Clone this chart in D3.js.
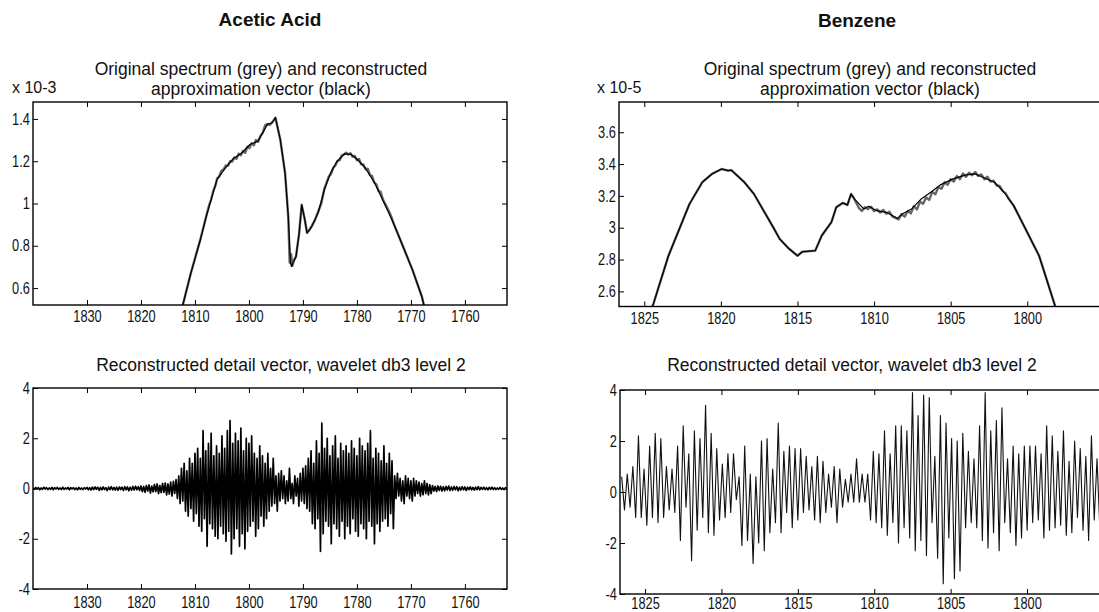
<!DOCTYPE html>
<html>
<head>
<meta charset="utf-8">
<title>Acetic Acid / Benzene - wavelet decomposition</title>
<script src="https://d3js.org/d3.v7.min.js"></script>
<style>
  body { margin: 0; background: #fff; }
  svg { display: block; }
  .ttl { font-family: "Liberation Sans", Arial, Helvetica, sans-serif; fill: #111; }
</style>
</head>
<body>
<div id="chart"></div>
<script>
// ---------- data ----------
// wavenumber ticks and y ticks
var acidXTicks = [1830, 1820, 1810, 1800, 1790, 1780, 1770, 1760];
var benzXTicks = [1825, 1820, 1815, 1810, 1805, 1800];
var acidApproxYTicks = [0.6, 0.8, 1, 1.2, 1.4];
var acidApproxYLabels = ["0.6", "0.8", "1", "1.2", "1.4"];
var benzApproxYTicks = [2.6, 2.8, 3, 3.2, 3.4, 3.6];
var benzApproxYLabels = ["2.6", "2.8", "3", "3.2", "3.4", "3.6"];
var detailYTicks = [-4, -2, 0, 2, 4];
var detailYLabels = ["-4", "-2", "0", "2", "4"];

// acetic acid, original spectrum (grey) [wavenumber, value x1e-3]
var acidOriginal = [[1812.5,0.48],[1812.25,0.52],[1810.77,0.67],[1809.0,0.83],[1807.81,0.95],[1807.4,0.99],[1807.0,1.02],
  [1806.6,1.06],[1806.2,1.085],[1805.9,1.118],[1805.5,1.128],[1805.1,1.155],[1804.7,1.16],[1804.3,1.18],[1803.9,1.178],
  [1803.5,1.2],[1803.1,1.198],[1802.7,1.218],[1802.3,1.212],[1801.9,1.235],[1801.5,1.228],[1801.1,1.248],[1800.7,1.24],
  [1800.3,1.268],[1799.9,1.262],[1799.5,1.285],[1799.1,1.275],[1798.7,1.3],[1798.3,1.292],[1797.9,1.318],[1797.46,1.334],
  [1797.0,1.37],[1796.57,1.376],[1796.1,1.372],[1795.68,1.385],[1795.09,1.406],[1794.2,1.303],[1793.31,1.145],[1792.72,0.939],
  [1792.45,0.72],[1792.2,0.76],[1791.95,0.705],[1791.7,0.73],[1791.28,0.75],[1790.7,0.86],[1790.23,0.994],[1789.65,0.923],
  [1789.24,0.862],[1788.8,0.875],[1788.37,0.893],[1787.8,0.92],[1787.2,0.96],[1786.6,1.0],[1786.03,1.07],[1785.6,1.1],
  [1785.2,1.128],[1784.8,1.14],[1784.4,1.168],[1784.0,1.18],[1783.6,1.2],[1783.2,1.205],[1782.8,1.228],[1782.4,1.232],
  [1782.0,1.24],[1781.6,1.232],[1781.2,1.238],[1780.8,1.222],[1780.4,1.225],[1780.0,1.205],[1779.6,1.21],[1779.2,1.185],
  [1778.8,1.185],[1778.4,1.162],[1778.0,1.165],[1777.6,1.135],[1777.2,1.13],[1776.8,1.1],[1776.4,1.09],[1776.0,1.06],
  [1775.6,1.055],[1775.2,1.02],[1774.8,1.0],[1774.4,0.98],[1774.0,0.96],[1773.6,0.935],[1773.2,0.905],[1771.46,0.797],
  [1769.71,0.686],[1767.96,0.559],[1767.6,0.52],[1767.3,0.48]];

// acetic acid, approximation vector (black)
var acidApprox = [[1812.5,0.48],[1812.25,0.52],[1810.77,0.67],[1809.0,0.828],[1807.81,0.947],[1806.63,1.05],[1805.92,1.113],
  [1804.56,1.161],[1803.08,1.208],[1801.3,1.24],[1799.82,1.279],[1798.34,1.295],[1797.46,1.334],[1796.57,1.374],
  [1795.68,1.382],[1795.09,1.406],[1794.2,1.303],[1793.31,1.145],[1792.72,0.939],[1792.3,0.72],[1792.13,0.702],
  [1791.87,0.717],[1791.28,0.749],[1790.7,0.86],[1790.23,0.994],[1789.65,0.923],[1789.24,0.86],[1788.37,0.891],
  [1787.2,0.955],[1786.03,1.065],[1784.87,1.145],[1783.7,1.2],[1782.24,1.235],[1781.08,1.232],[1779.91,1.208],
  [1778.45,1.168],[1776.71,1.097],[1774.96,1.002],[1773.21,0.907],[1771.46,0.797],[1769.71,0.686],[1767.96,0.559],
  [1767.6,0.52],[1767.3,0.48]];

// acetic acid, detail vector level 2: samples from 1840 every 0.25 cm-1 downward
var acidDetailStart = 1840, acidDetailStep = 0.25;
var acidDetail = [
  0.02,-0.03,0.04,-0.02,0.03,-0.05,0.02,-0.03,0.05,-0.02,
  0.03,-0.04,0.02,-0.03,0.04,-0.05,0.03,-0.02,0.04,-0.03,
  0.02,-0.04,0.05,-0.03,0.02,-0.02,0.04,-0.05,0.03,-0.02,
  0.03,-0.04,0.02,-0.05,0.04,-0.03,0.02,-0.04,0.03,-0.02,
  0.04,-0.05,0.03,-0.06,0.05,-0.04,0.06,-0.03,0.05,-0.07,
  0.04,-0.05,0.06,-0.04,0.03,-0.08,0.05,-0.04,0.07,-0.05,
  0.04,-0.06,0.05,-0.07,0.06,-0.04,0.05,-0.08,0.07,-0.05,
  0.06,-0.09,0.05,-0.07,0.08,-0.06,0.09,-0.05,0.07,-0.08,
  0.1,-0.12,0.08,-0.15,0.12,-0.1,0.14,-0.18,0.1,-0.13,
  0.16,-0.12,0.18,-0.2,0.12,-0.16,0.2,-0.15,0.22,-0.25,
  0.18,-0.22,0.25,-0.3,0.28,-0.2,0.35,-0.4,
  0.5,-0.6,0.8,-0.5,1.0,-0.9,0.7,-1.1,1.2,-0.8,1.0,-1.3,
  1.4,-1.0,1.6,-1.5,1.2,-1.7,2.3,-1.2,1.5,-2.3,1.8,-1.4,2.2,-1.6,1.3,-1.9,1.7,-2.0,1.4,-1.5,
  2.1,-1.8,1.6,-2.1,2.3,-1.7,2.7,-2.6,1.8,-2.0,2.2,-1.6,1.9,-2.3,2.4,-1.8,1.5,-2.4,2.0,-1.7,
  1.8,-1.5,2.1,-1.3,1.4,-1.9,1.2,-1.6,1.7,-1.1,1.3,-1.5,1.0,-1.2,1.4,-0.9,
  0.8,-0.7,1.2,-0.6,0.5,-0.9,0.6,-0.5,0.7,-0.4,0.5,-0.6,
  0.3,-0.5,0.8,-0.4,0.2,-0.6,0.5,-0.3,0.4,-0.7,0.6,-0.5,0.8,-0.6,0.9,-0.8,
  1.2,-0.9,1.5,-1.4,1.0,-1.6,1.9,-1.2,1.4,-2.5,2.6,-1.8,
  1.6,-1.3,2.0,-1.5,1.3,-2.2,1.7,-1.4,2.1,-1.6,1.2,-1.9,1.8,-1.3,1.5,-2.0,1.7,-1.5,1.4,-1.8,
  1.9,-1.2,1.6,-1.7,1.3,-1.9,2.0,-1.4,1.7,-1.6,1.5,-2.0,1.8,-1.3,2.3,-1.5,1.2,-2.2,1.6,-1.4,
  1.4,-1.7,1.1,-1.3,1.7,-1.2,1.0,-1.5,1.4,-1.0,1.1,-1.6,
  0.5,-0.4,0.6,-0.3,0.4,-0.5,0.3,-0.6,0.5,-0.3,0.4,-0.4,0.3,-0.5,0.4,-0.3,
  0.3,-0.2,0.25,-0.3,0.2,-0.25,0.3,-0.2,0.2,-0.25,0.15,-0.2,
  0.12,-0.1,0.08,-0.12,0.1,-0.08,0.09,-0.1,0.07,-0.09,
  0.08,-0.06,0.1,-0.08,0.06,-0.07,0.08,-0.05,0.07,-0.09,
  0.05,-0.06,0.07,-0.05,0.06,-0.08,0.05,-0.04,0.06,-0.05,
  0.04,-0.06,0.05,-0.04,0.07,-0.05,0.04,-0.03,0.05,-0.04,
  0.03,-0.05,0.04,-0.03,0.05,-0.04,0.03,-0.04,0.02,-0.03,
  0.04,-0.03,0.02,-0.04,0.03,-0.02,0.03];

// benzene, original spectrum (grey) [wavenumber, value x1e-5]
var benzOriginal = [[1824.6,2.47],[1824.41,2.52],[1823.42,2.824],[1822.58,3.023],[1822.05,3.149],[1821.21,3.286],
  [1820.58,3.338],[1819.95,3.369],[1819.53,3.359],[1819.32,3.362],[1818.47,3.286],[1817.84,3.212],[1817.21,3.107],
  [1816.58,3.002],[1816.16,2.929],[1815.53,2.866],[1815.0,2.824],[1814.68,2.849],[1813.84,2.856],[1813.42,2.95],
  [1812.79,3.034],[1812.47,3.128],[1812.05,3.156],[1811.74,3.143],[1811.5,3.212],[1811.29,3.181],
  [1811.0,3.125],[1810.8,3.105],[1810.6,3.128],[1810.4,3.118],[1810.2,3.132],[1810.0,3.105],[1809.8,3.115],
  [1809.6,3.095],[1809.4,3.112],[1809.2,3.088],[1809.0,3.1],[1808.8,3.07],[1808.6,3.062],[1808.4,3.052],
  [1808.2,3.085],[1808.0,3.07],[1807.8,3.105],[1807.6,3.09],[1807.4,3.135],[1807.2,3.115],[1807.0,3.165],
  [1806.8,3.15],[1806.6,3.19],[1806.4,3.175],[1806.2,3.225],[1806.0,3.21],[1805.8,3.255],[1805.6,3.245],
  [1805.4,3.285],[1805.2,3.27],[1805.0,3.305],[1804.8,3.29],[1804.6,3.325],[1804.4,3.305],[1804.2,3.34],
  [1804.0,3.32],[1803.8,3.345],[1803.6,3.33],[1803.4,3.35],[1803.2,3.325],[1803.0,3.335],[1802.8,3.305],
  [1802.6,3.32],[1802.4,3.29],[1802.2,3.295],[1802.0,3.265],[1801.8,3.262],[1801.6,3.23],[1801.4,3.215],
  [1801.2,3.18],[1800.89,3.139],[1800.06,2.982],[1799.23,2.824],[1798.19,2.51],[1798.0,2.47]];

// benzene, approximation vector (black)
var benzApprox = [[1824.6,2.47],[1824.41,2.52],[1823.42,2.824],[1822.58,3.023],[1822.05,3.149],[1821.21,3.286],
  [1820.58,3.338],[1819.95,3.369],[1819.53,3.359],[1819.32,3.362],[1818.47,3.286],[1817.84,3.212],[1817.21,3.107],
  [1816.58,3.002],[1816.16,2.929],[1815.53,2.866],[1815.0,2.824],[1814.68,2.849],[1813.84,2.856],[1813.42,2.95],
  [1812.79,3.034],[1812.47,3.128],[1812.05,3.156],[1811.74,3.143],[1811.5,3.212],[1811.29,3.181],[1810.67,3.118],
  [1810.35,3.135],[1809.83,3.107],[1809.21,3.097],[1808.48,3.059],[1808.17,3.086],[1807.55,3.118],[1806.92,3.181],
  [1806.3,3.223],[1805.68,3.269],[1804.84,3.307],[1804.01,3.332],[1803.39,3.338],[1802.77,3.311],[1802.14,3.286],
  [1801.52,3.223],[1800.89,3.139],[1800.06,2.982],[1799.23,2.824],[1798.19,2.51],[1798.0,2.47]];

// benzene, detail vector level 2: samples from 1826.53 every 0.183 cm-1 downward
var benzDetailStart = 1826.53, benzDetailStep = 0.183;
var benzDetail = [
  0.6,-0.7,0.7,-0.6,1.0,-1.0,2.2,-1.0,0.9,-1.3,
  1.8,-1.0,2.3,-1.2,2.1,-1.0,1.0,-0.7,0.9,-0.8,
  1.8,-1.9,2.6,-0.6,1.5,-2.7,2.4,-1.5,2.1,-1.0,
  3.4,-1.6,2.3,-1.7,1.7,-1.1,1.1,-1.0,1.5,-0.8,
  1.5,-0.3,0.6,-2.1,1.8,-1.9,0.7,-2.8,0.6,-2.0,
  2.0,-2.3,2.1,-1.6,0.9,-1.2,2.7,-1.6,1.6,-0.8,
  1.8,-1.4,1.7,-1.1,1.7,-0.8,1.4,-0.7,1.0,-1.1,
  1.4,-1.2,1.2,-0.8,0.7,-0.6,1.0,-1.2,0.9,-0.6,
  0.5,-0.4,0.7,-0.4,1.3,-0.4,0.7,-0.4,0.7,-1.1,
  1.6,-1.2,1.5,-1.4,2.4,-1.7,1.5,-1.2,2.6,-2.0,
  2.6,-1.4,2.4,-1.8,3.9,-2.3,3.0,-1.9,3.8,-2.5,
  3.7,-1.2,1.4,-2.6,3.0,-3.6,2.7,-1.8,2.1,-3.4,
  2.0,-3.1,2.3,-1.4,1.6,-1.2,1.3,-1.4,2.6,-1.9,
  3.9,-2.2,2.4,-1.6,2.8,-2.3,3.3,-1.2,1.3,-1.6,
  1.8,-2.1,1.5,-1.8,1.8,-1.5,1.8,-1.2,1.8,-1.1,
  1.5,-1.8,2.6,-1.5,2.2,-1.4,1.6,-1.3,2.4,-1.7,
  1.2,-1.6,2.0,-1.0,1.7,-1.5,1.4,-1.9,2.2,-1.1,1.3,-1.4,1.6,-1.2];

// ---------- drawing ----------
var W = 1099, H = 612;
var svg = d3.select("#chart").append("svg").attr("width", W).attr("height", H);
var tickFont = '"Liberation Sans", Arial, sans-serif';

function panel(o) {
  var g = svg.append("g").attr("transform", "translate(" + o.left + "," + o.top + ")");
  var x = d3.scaleLinear().domain(o.xDomain).range([0, o.width]);
  var y = d3.scaleLinear().domain(o.yDomain).range([o.height, 0]);

  g.append("clipPath").attr("id", o.id)
    .append("rect").attr("width", o.width).attr("height", o.height);

  // MATLAB-ish narrow tick labels
  function styleAxis(sel) {
    sel.select(".domain").remove();
    sel.selectAll(".tick line").attr("stroke", "#000");
    sel.selectAll("text").attr("fill", "#111")
      .attr("transform", "scale(0.8,1)")
      .style("font-family", tickFont).style("font-size", "16px");
  }

  g.append("g").attr("transform", "translate(0," + o.height + ")")
    .call(d3.axisBottom(x).tickValues(o.xTicks).tickFormat(d3.format("d")).tickSize(-5).tickPadding(o.xPad))
    .call(styleAxis);
  g.append("g")
    .call(d3.axisTop(x).tickValues(o.xTicks).tickFormat("").tickSize(-5))
    .call(styleAxis);
  g.append("g")
    .call(d3.axisLeft(y).tickValues(o.yTicks).tickFormat(function(d, i) { return o.yLabels[i]; })
      .tickSize(-5).tickPadding(4))
    .call(styleAxis);
  g.append("g").attr("transform", "translate(" + o.width + ",0)")
    .call(d3.axisRight(y).tickValues(o.yTicks).tickFormat("").tickSize(-5))
    .call(styleAxis);

  var lines = g.append("g").attr("clip-path", "url(#" + o.id + ")");
  var line = d3.line().x(function(d) { return x(d[0]); }).y(function(d) { return y(d[1]); });
  o.series.forEach(function(s) {
    lines.append("path").datum(s.data)
      .attr("fill", "none").attr("stroke", s.color).attr("stroke-width", s.width)
      .attr("stroke-linejoin", "round")
      .attr("d", line);
  });

  g.append("rect").attr("width", o.width).attr("height", o.height)
    .attr("fill", "none").attr("stroke", "#000").attr("stroke-width", 1.4);
  return g;
}

function sampled(start, step, values) {
  return values.map(function(v, i) { return [start - i * step, v]; });
}

panel({
  id: "c1", left: 33, top: 102, width: 474, height: 203, xPad: 6,
  xDomain: [1840, 1752.2], yDomain: [0.52, 1.48],
  xTicks: acidXTicks, yTicks: acidApproxYTicks, yLabels: acidApproxYLabels,
  series: [{ data: acidOriginal, color: "#666", width: 2.4 },
           { data: acidApprox, color: "#000", width: 1.2 }]
});
panel({
  id: "c2", left: 33, top: 388, width: 474, height: 201, xPad: 8,
  xDomain: [1840, 1752.2], yDomain: [-4, 4],
  xTicks: acidXTicks, yTicks: detailYTicks, yLabels: detailYLabels,
  series: [{ data: sampled(acidDetailStart, acidDetailStep, acidDetail), color: "#000", width: 1.7 }]
});
panel({
  id: "c3", left: 619, top: 102, width: 491, height: 204.5, xPad: 6,
  xDomain: [1826.65, 1794.6], yDomain: [2.505, 3.79],
  xTicks: benzXTicks, yTicks: benzApproxYTicks, yLabels: benzApproxYLabels,
  series: [{ data: benzOriginal, color: "#666", width: 2.4 },
           { data: benzApprox, color: "#000", width: 1.2 }]
});
panel({
  id: "c4", left: 620, top: 390, width: 490, height: 204, xPad: 4,
  xDomain: [1826.64, 1794.57], yDomain: [-4, 4],
  xTicks: benzXTicks, yTicks: detailYTicks, yLabels: detailYLabels,
  series: [{ data: sampled(benzDetailStart, benzDetailStep, benzDetail), color: "#111", width: 1.1 }]
});

// titles
function label(txt, x, y, size, weight, anchor) {
  svg.append("text").attr("class", "ttl")
    .attr("x", x).attr("y", y)
    .attr("text-anchor", anchor || "middle")
    .style("font-size", size + "px").style("font-weight", weight || "normal")
    .text(txt);
}
label("Acetic Acid", 270, 26, 19, "bold");
label("Benzene", 857, 27, 19, "bold");
label("Original spectrum (grey) and reconstructed", 261, 75, 17.5);
label("approximation vector (black)", 261, 95, 17.5);
label("Original spectrum (grey) and reconstructed", 870, 75, 17.5);
label("approximation vector (black)", 870, 95, 17.5);
label("x 10-3", 12, 93, 16, "normal", "start");
label("x 10-5", 597, 93, 16, "normal", "start");
label("Reconstructed detail vector, wavelet db3 level 2", 281, 371, 17.5);
label("Reconstructed detail vector, wavelet db3 level 2", 852, 371, 17.5);
</script>
</body>
</html>
